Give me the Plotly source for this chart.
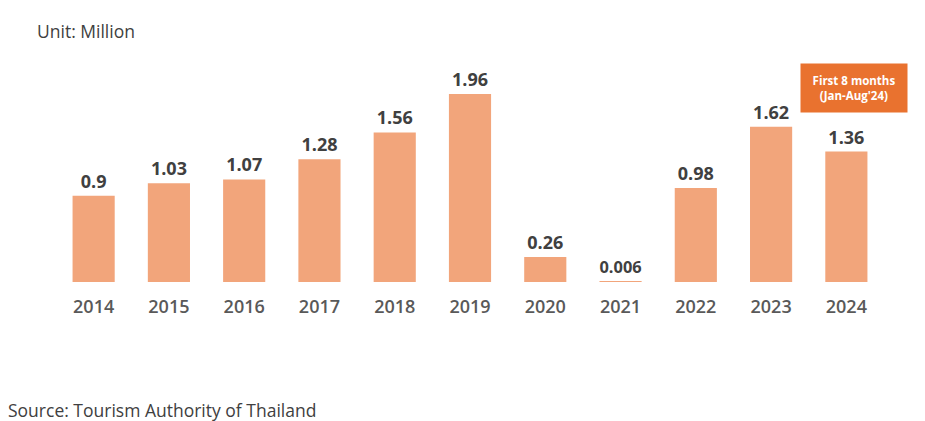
import plotly.graph_objects as go

years = ["2014", "2015", "2016", "2017", "2018", "2019", "2020", "2021", "2022", "2023", "2024"]
visitors = [0.9, 1.03, 1.07, 1.28, 1.56, 1.96, 0.26, 0.006, 0.98, 1.62, 1.36]
value_labels = ["0.9", "1.03", "1.07", "1.28", "1.56", "1.96", "0.26", "0.006", "0.98", "1.62", "1.36"]

BAR = "#F2A57B"
FONT = "Open Sans, Liberation Sans, sans-serif"

fig = go.Figure(
    go.Bar(
        x=years,
        y=visitors,
        text=value_labels,
        textposition="outside",
        textfont=dict(family=FONT, size=18, color="#404040", weight="bold"),
        marker=dict(color=BAR, line=dict(width=0)),
        cliponaxis=False,
    )
)

fig.update_layout(
    width=925,
    height=421,
    margin=dict(l=56, r=41, t=71, b=139),
    paper_bgcolor="white",
    plot_bgcolor="white",
    bargap=0.44,
    showlegend=False,
    font=dict(family=FONT),
    xaxis=dict(
        showgrid=False,
        showline=False,
        ticks="",
        ticklabelstandoff=12,
        tickfont=dict(family=FONT, size=18, color="#595959", weight=600),
    ),
    yaxis=dict(range=[0, 2.2], visible=False),
    annotations=[
        dict(
            text="Unit: Million",
            xref="paper", yref="paper",
            x=-0.025, y=1.19,
            xanchor="left", yanchor="middle",
            showarrow=False,
            font=dict(family=FONT, size=17.5, color="#404040"),
        ),
        dict(
            text="Source: Tourism Authority of Thailand",
            xref="paper", yref="paper",
            x=-0.06, y=-0.607,
            xanchor="left", yanchor="middle",
            showarrow=False,
            font=dict(family=FONT, size=17.5, color="#404040"),
        ),
        dict(
            text="<b>First 8 months<br>(Jan-Aug'24)</b>",
            xref="paper", yref="paper",
            x=0.964, y=0.919,
            xanchor="center", yanchor="middle",
            showarrow=False,
            bgcolor="#E9722F",
            width=104,
            height=46,
            font=dict(family=FONT, size=11.5, color="white"),
        ),
    ],
)

fig.write_html("out.html")
